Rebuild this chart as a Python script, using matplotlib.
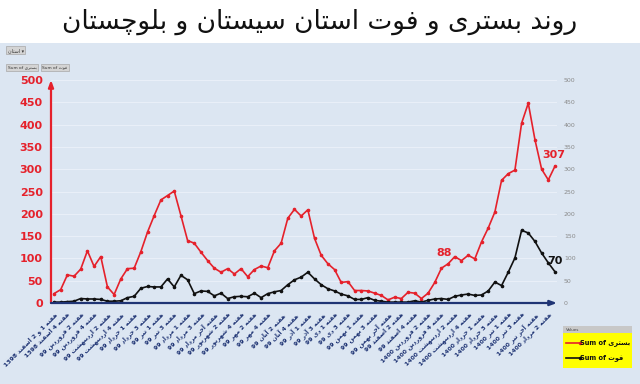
import matplotlib
matplotlib.use("Agg")
import matplotlib.pyplot as plt
from matplotlib.patches import Rectangle

# weekly hospitalised (بستری) and deaths (فوت), Sistan & Baluchestan
hosp = [21, 30, 63, 60, 76, 117, 82, 104, 36, 19,
        54, 77, 78, 115, 159, 196, 231, 241, 251, 196,
        140, 134, 114, 95, 78, 69, 77, 65, 77, 59,
        75, 83, 79, 117, 134, 190, 210, 195, 209, 145,
        107, 88, 75, 46, 48, 28, 28, 27, 22, 17,
        7, 13, 10, 24, 22, 10, 22, 46, 78, 88,
        104, 95, 107, 99, 137, 168, 204, 275, 290, 298,
        403, 448, 366, 300, 276, 307]
deaths = [2, 2, 3, 4, 10, 9, 9, 8, 4, 4,
          5, 12, 15, 33, 37, 36, 36, 54, 36, 62,
          52, 21, 27, 26, 16, 22, 10, 14, 15, 14,
          22, 12, 21, 25, 28, 41, 52, 58, 69, 54,
          41, 32, 27, 20, 16, 8, 8, 12, 6, 4,
          2, 2, 2, 2, 5, 2, 6, 9, 10, 8,
          15, 18, 20, 17, 18, 27, 47, 39, 69, 101,
          163, 157, 138, 112, 90, 70]

# one label every second week
week_labels = [
    "هفته 1 و 2 اسفند 1398", "هفته 4 اسفند 1398", "هفته 2 فروردین 99",
    "هفته 4 فروردین 99", "هفته 2 اردیبهشت 99", "هفته 4 اردیبهشت 99",
    "هفته 1 خرداد 99", "هفته 3 خرداد 99", "هفته 1 تیر 99", "هفته 3 تیر 99",
    "هفته 1 مرداد 99", "هفته 3 مرداد 99", "هفته آخر مرداد 99",
    "هفته 2 شهریور 99", "هفته 4 شهریور 99", "هفته 2 مهر 99", "هفته 4 مهر 99",
    "هفته 2 آبان 99", "هفته 4 آبان 99", "هفته 1 آذر 99", "هفته 3 آذر 99",
    "هفته 1 دی 99", "هفته 3 دی 99", "هفته 1 بهمن 99", "هفته 3 بهمن 99",
    "هفته آخر بهمن 99", "هفته 2 اسفند 99", "هفته 4 اسفند 99",
    "هفته 2 فروردین 1400", "هفته 4 فروردین 1400", "هفته 2 اردیبهشت 1400",
    "هفته 4 اردیبهشت 1400", "هفته 1 خرداد 1400", "هفته 3 خرداد 1400",
    "هفته 1 تیر 1400", "هفته 3 تیر 1400", "هفته آخر تیر 1400",
    "هفته 2 مرداد 1400",
]
y_ticks = [0, 50, 100, 150, 200, 250, 300, 350, 400, 450, 500]

title = "روند بستری و فوت استان سیستان و بلوچستان"

# --- tiny Persian shaper (matplotlib has no bidi / joining) ---
# letter: (isolated, final, initial, medial); 2-tuples do not join forward
FORMS = {
    "ا": ("\uFE8D", "\uFE8E"), "آ": ("\uFE81", "\uFE82"),
    "د": ("\uFEA9", "\uFEAA"), "ذ": ("\uFEAB", "\uFEAC"),
    "ر": ("\uFEAD", "\uFEAE"), "ز": ("\uFEAF", "\uFEB0"),
    "و": ("\uFEED", "\uFEEE"),
    "ب": ("\uFE8F", "\uFE90", "\uFE91", "\uFE92"),
    "ت": ("\uFE95", "\uFE96", "\uFE97", "\uFE98"),
    "خ": ("\uFEA5", "\uFEA6", "\uFEA7", "\uFEA8"),
    "س": ("\uFEB1", "\uFEB2", "\uFEB3", "\uFEB4"),
    "ش": ("\uFEB5", "\uFEB6", "\uFEB7", "\uFEB8"),
    "ف": ("\uFED1", "\uFED2", "\uFED3", "\uFED4"),
    "ل": ("\uFEDD", "\uFEDE", "\uFEDF", "\uFEE0"),
    "م": ("\uFEE1", "\uFEE2", "\uFEE3", "\uFEE4"),
    "ن": ("\uFEE5", "\uFEE6", "\uFEE7", "\uFEE8"),
    "ه": ("\uFEE9", "\uFEEA", "\uFEEB", "\uFEEC"),
    "ی": ("\uFBFC", "\uFBFD", "\uFBFE", "\uFBFF"),
    "چ": ("\uFB7A", "\uFB7B", "\uFB7C", "\uFB7D"),
}


def shape_word(w):
    out = []
    for k, ch in enumerate(w):
        f = FORMS.get(ch)
        if f is None:
            out.append(ch)
            continue
        prev = FORMS.get(w[k - 1]) if k > 0 else None
        nxt = FORMS.get(w[k + 1]) if k + 1 < len(w) else None
        join_prev = prev is not None and len(prev) == 4
        join_next = len(f) == 4 and nxt is not None
        if join_prev and join_next:
            out.append(f[3])
        elif join_prev:
            out.append(f[1])
        elif join_next:
            out.append(f[2])
        else:
            out.append(f[0])
    return "".join(out)[::-1]


def is_fa(w):
    return any(ch in FORMS for ch in w)


def rtl(s):
    return " ".join(shape_word(w) if is_fa(w) else w for w in reversed(s.split(" ")))


RED = "#E5212B"
NAVY = "#1F3474"
BG = "#DCE6F2"

fig = plt.figure(figsize=(6.4, 3.84), dpi=100)
fig.patch.set_facecolor("white")
fig.patches.append(Rectangle((0, 0), 1, 1 - 43 / 384, transform=fig.transFigure,
                             facecolor=BG, edgecolor="none", zorder=-5))

fig.text(0.5, 0.942, rtl(title), ha="center", va="center", fontsize=19,
         color="#111111")

# pivot field buttons
btn = dict(boxstyle="square,pad=0.3", fc="#D4D4D4", ec="#A8A8A8", lw=0.5)
fig.text(0.012, 0.865, rtl("استان") + " ▾", fontsize=3.5, color="#333333", bbox=btn)
fig.text(0.012, 0.822, "Sum of " + shape_word("بستری"), fontsize=3.2,
         color="#333333", bbox=btn)
fig.text(0.066, 0.822, "Sum of " + shape_word("فوت"), fontsize=3.2,
         color="#333333", bbox=btn)

ax = fig.add_axes([51 / 640, 1 - 303 / 384, 506 / 640, 223 / 384])
ax.set_facecolor(BG)
x = list(range(len(hosp)))
ax.plot(x, hosp, color=RED, lw=1.2, marker="o", ms=1.6, zorder=3)
ax.plot(x, deaths, color="#111111", lw=1.2, marker="o", ms=1.6, zorder=3)

ax.set_xlim(-0.45, 75.3)
ax.set_ylim(0, 500)
ax.set_yticks(y_ticks)
ax.yaxis.grid(True, color="#E9EFF8", lw=0.8)
ax.set_axisbelow(True)
for s in ax.spines.values():
    s.set_visible(False)
ax.tick_params(axis="y", length=0, pad=6, labelsize=8, labelcolor=RED)
for t in ax.get_yticklabels():
    t.set_fontweight("bold")

ax.set_xticks(x[::2])
ax.set_xticklabels([rtl(s) for s in week_labels], rotation=45, ha="right",
                   rotation_mode="anchor", fontsize=4.4, color=NAVY,
                   fontweight="bold")
ax.tick_params(axis="x", length=0, pad=6)

# axis arrows
ax.annotate("", xy=(0, 1.0), xytext=(0, 0), xycoords="axes fraction",
            arrowprops=dict(arrowstyle="-|>,head_length=0.4,head_width=0.15",
                            color=RED, lw=1.6, shrinkA=0, shrinkB=0))
ax.annotate("", xy=(1.0, 0), xytext=(0, 0), xycoords="axes fraction",
            arrowprops=dict(arrowstyle="-|>,head_length=0.4,head_width=0.15",
                            color=NAVY, lw=1.6, shrinkA=0, shrinkB=0))

# secondary axis labels on the right
ax2 = ax.twinx()
ax2.set_ylim(0, 500)
ax2.set_yticks(y_ticks)
for s in ax2.spines.values():
    s.set_visible(False)
ax2.tick_params(axis="y", length=0, pad=5, labelsize=4.5, labelcolor="#8A8A8A")

# value callouts
ax.annotate(str(hosp[59]), (59, hosp[59]), xytext=(-3, 8), textcoords="offset points",
            ha="center", va="center", color=RED, fontsize=8, fontweight="bold")
ax.annotate(str(hosp[-1]), (75, hosp[-1]), xytext=(-1, 8), textcoords="offset points",
            ha="center", va="center", color=RED, fontsize=8, fontweight="bold")
ax.annotate(str(deaths[-1]), (75, deaths[-1]), xytext=(0, 8), textcoords="offset points",
            ha="center", va="center", color="#111111", fontsize=8, fontweight="bold")

# legend box
lg = fig.add_axes([563 / 640, 1 - 368 / 384, 69 / 640, 42 / 384])
lg.set_xlim(0, 1)
lg.set_ylim(0, 1)
lg.set_facecolor("#FFFF00")
lg.set_xticks([])
lg.set_yticks([])
for s in lg.spines.values():
    s.set_visible(False)
lg.add_patch(Rectangle((0, 0.83), 1, 0.17, facecolor="#C8C8C8", edgecolor="none"))
lg.text(0.04, 0.915, "Values", fontsize=3, va="center", color="#444444")
for yy, c, name in [(0.6, RED, "بستری"), (0.24, "#111111", "فوت")]:
    lg.plot([0.04, 0.24], [yy, yy], color=c, lw=1.2, marker="o", ms=1.5,
            markevery=[1])
    lg.text(0.25, yy, "Sum of " + shape_word(name), fontsize=4.8, fontweight="bold",
            va="center", color="#111111")

fig.savefig("out.png", dpi=100)
